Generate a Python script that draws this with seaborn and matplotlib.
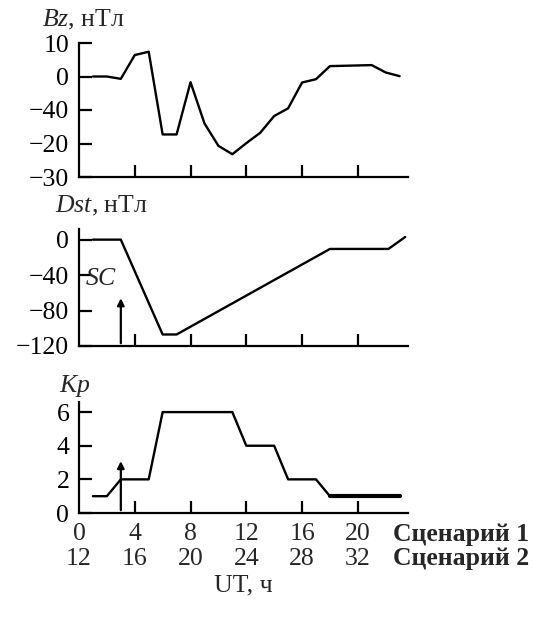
import matplotlib
matplotlib.use("Agg")
import matplotlib.pyplot as plt
import seaborn as sns
import pandas as pd

sns.set_theme(style="white")
plt.rcParams['font.family'] = ['Liberation Serif', 'DejaVu Serif']
plt.rcParams['mathtext.fontset'] = 'custom'
plt.rcParams['mathtext.it'] = 'Liberation Serif:italic'
plt.rcParams['mathtext.rm'] = 'Liberation Serif'
plt.rcParams['axes.unicode_minus'] = True

# ---- data ----
bz_hours = [1, 2, 3, 4, 5, 6, 7, 8, 9, 10, 11, 12, 13, 14, 15, 16, 17, 18, 21, 22, 23]
bz_values = [0, 0, -0.7, 6.4, 7.4, -17.3, -17.3, -1.7, -14, -20.7, -23.2, -19.9, -16.8,
             -11.8, -9.5, -1.8, -0.8, 3.1, 3.4, 1.2, 0.1]

dst_hours = [1, 3, 6, 7, 18, 22.2, 23.4]
dst_values = [0, 0, -107, -107, -10.5, -10.5, 3]

kp_hours = [1, 2, 3, 5, 6, 11, 12, 14, 15, 17, 18, 23]
kp_values = [1, 1, 2, 2, 6, 6, 4, 4, 2, 2, 1, 1]

x_ticks = [0, 4, 8, 12, 16, 20]
scenario1_labels = ['0', '4', '8', '12', '16', '20']
scenario2_labels = ['12', '16', '20', '24', '28', '32']

bz_ticks = [10, 0, -10, -20, -30]
bz_tick_labels = ['10', '0', '\u221240', '\u221220', '\u221230']
dst_ticks = [0, -40, -80, -120]
dst_tick_labels = ['0', '\u221240', '\u221280', '\u2212120']
kp_ticks = [0, 2, 4, 6]

sc_hour = 3

W, H = 533, 619
X0, X1 = 79, 408
XMAX = 23.6
fig = plt.figure(figsize=(W / 100, H / 100), dpi=100)

def rect(top_px, bottom_px, left_px=X0, right_px=X1):
    return [left_px / W, 1 - bottom_px / H, (right_px - left_px) / W, (bottom_px - top_px) / H]

ax1 = fig.add_axes(rect(43, 177))
ax2 = fig.add_axes(rect(229, 346))
ax3 = fig.add_axes(rect(402, 513))

FS = 18.5
LW = 1.7

df_bz = pd.DataFrame({'UT': bz_hours, 'val': bz_values})
df_dst = pd.DataFrame({'UT': dst_hours, 'val': dst_values})
df_kp = pd.DataFrame({'UT': kp_hours, 'val': kp_values})

sns.lineplot(data=df_bz, x='UT', y='val', ax=ax1, color='black', lw=LW, sort=False)
sns.lineplot(data=df_dst, x='UT', y='val', ax=ax2, color='black', lw=LW, sort=False)
sns.lineplot(data=df_kp, x='UT', y='val', ax=ax3, color='black', lw=LW, sort=False)
tail = df_kp[df_kp['UT'] >= 18]
sns.lineplot(data=tail, x='UT', y='val', ax=ax3, color='black', lw=3.0, sort=False)

for ax in (ax1, ax2, ax3):
    ax.set_xlim(0, XMAX)
    ax.set_xticks([4, 8, 12, 16, 20])
    ax.set_xticklabels([])
    for s in ('top', 'right'):
        ax.spines[s].set_visible(False)
    for s in ('left', 'bottom'):
        ax.spines[s].set_color('black')
        ax.spines[s].set_linewidth(1.6)
    ax.tick_params(axis='both', direction='in', length=9, width=1.6, color='black',
                   labelsize=FS, labelcolor='black', pad=3, bottom=True, left=True)
    ax.tick_params(axis='y', pad=7)
    ax.set_xlabel('')
    ax.set_ylabel('')
    ax.set_facecolor('none')

ax1.set_ylim(-30, 10)
ax1.set_yticks(bz_ticks)
ax1.set_yticklabels(bz_tick_labels)

ax2.set_ylim(-120, 12)
ax2.set_yticks(dst_ticks)
ax2.set_yticklabels(dst_tick_labels)

ax3.set_ylim(0, 6.6)
ax3.set_yticks(kp_ticks)

# panel titles
fig.text(42 / W, 1 - 20 / H, r'$Bz$, нТл', fontsize=FS, ha='left', va='center')
fig.text(55 / W, 1 - 206 / H, r'$Dst$, нТл', fontsize=FS, ha='left', va='center')
fig.text(59 / W, 1 - 386 / H, r'$Kp$', fontsize=FS, ha='left', va='center')

# SC arrows
ax2.annotate('', xy=(sc_hour, -63), xytext=(sc_hour, -120),
             arrowprops=dict(arrowstyle='-|>', color='black', lw=1.6, mutation_scale=10))
ax2.text(0.45, -44, r'$SC$', fontsize=FS, ha='left', va='center')
ax3.annotate('', xy=(sc_hour, 3.25), xytext=(sc_hour, 0),
             arrowprops=dict(arrowstyle='-|>', color='black', lw=1.6, mutation_scale=10))

# x labels for two scenarios
y1 = 1 - 534 / H
y2 = 1 - 559 / H
for xv, l1, l2 in zip(x_ticks, scenario1_labels, scenario2_labels):
    xf = (X0 + xv * (X1 - X0) / XMAX) / W
    fig.text(xf, y1, l1, fontsize=FS, ha='center', va='center')
    fig.text(xf, y2, l2, fontsize=FS, ha='center', va='center')
fig.text(393 / W, y1, 'Сценарий 1', fontsize=FS, ha='left', va='center', fontweight='bold')
fig.text(393 / W, y2, 'Сценарий 2', fontsize=FS, ha='left', va='center', fontweight='bold')
fig.text(243 / W, 1 - 585 / H, 'UT, ч', fontsize=FS, ha='center', va='center')

fig.savefig('out.png', dpi=100)
